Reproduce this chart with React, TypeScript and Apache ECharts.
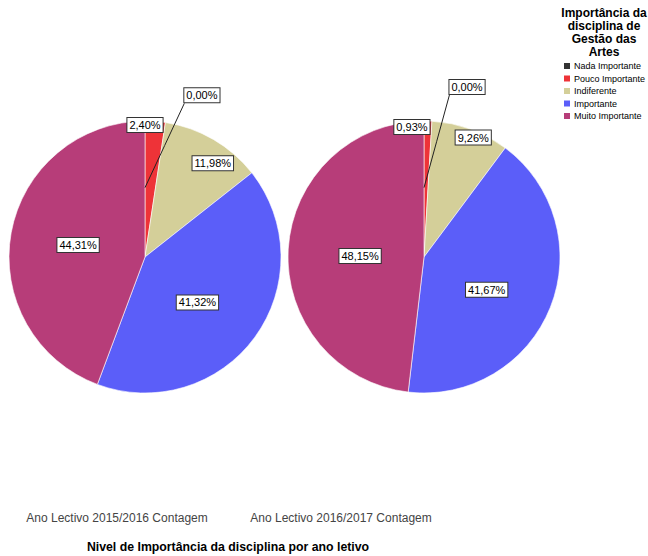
import React, { useEffect, useRef } from 'react';
import * as echarts from 'echarts';

const categories = ['Nada Importante', 'Pouco Importante', 'Indiferente', 'Importante', 'Muito Importante'];
const values2015 = [0, 2.4, 11.98, 41.32, 44.31];
const values2016 = [0, 0.93, 9.26, 41.67, 48.15];
const pieCaptions = ['Ano Lectivo 2015/2016 Contagem', 'Ano Lectivo 2016/2017 Contagem'];
const legendTitle = 'Importância da\ndisciplina de\nGestão das\nArtes';
const chartTitle = 'Nivel de Importância da disciplina por ano letivo';

const colors = ['#333333', '#ee3338', '#d4cf99', '#5b5ef9', '#b73d79'];
const FONT = '"Liberation Sans", Arial, sans-serif';

const PIE_R = 136;
const centers: number[][] = [[145, 257], [424, 257]];
// label placement per series & item: angle (absolute deg, null = slice middle), fraction of radius
const placement: { angle: number | null; f: number }[][] = [
  [{ angle: 19.4, f: 1.26 }, { angle: 0, f: 0.97 }, { angle: 35.9, f: 0.85 }, { angle: 130.9, f: 0.51 }, { angle: 280.2, f: 0.5 }],
  [{ angle: 14.2, f: 1.29 }, { angle: -5.3, f: 0.96 }, { angle: 22.4, f: 0.95 }, { angle: 117.6, f: 0.52 }, { angle: 270.9, f: 0.47 }],
];

const allValues = [values2015, values2016];

function fmt(v: number) {
  return v.toFixed(2).replace('.', ',') + '%';
}

function polar(s: number, angleDeg: number, f: number) {
  const a = (angleDeg * Math.PI) / 180;
  const [cx, cy] = centers[s];
  return [cx + Math.sin(a) * f * PIE_R, cy - Math.cos(a) * f * PIE_R];
}

function midAngle(s: number, i: number) {
  const vals = allValues[s];
  const total = vals.reduce((a, b) => a + b, 0);
  let cum = 0;
  for (let k = 0; k < i; k++) cum += vals[k];
  return ((cum + vals[i] / 2) / total) * 360;
}

const labelBase = {
  show: true,
  position: 'inside',
  formatter: (p: any) => fmt(p.value),
  fontFamily: FONT,
  fontSize: 11,
  color: '#000',
  backgroundColor: '#ffffff',
  borderColor: '#333',
  borderWidth: 1,
  padding: [2, 2, 1, 2],
  align: 'center',
  verticalAlign: 'middle',
};

function makeLayout(s: number) {
  return (params: any) => {
    const i = params.dataIndex;
    const pl = placement[s][i];
    const ang = pl.angle === null ? midAngle(s, i) : pl.angle;
    const [x, y] = polar(s, ang, pl.f);
    const res: any = { x, y, align: 'center', verticalAlign: 'middle' };
    if (allValues[s][i] === 0) {
      const w = params.labelRect.width;
      const h = params.labelRect.height;
      const sx = x - w / 2 + 1;
      const sy = y + h / 2;
      const [tx, ty] = polar(s, 0, 0.51);
      res.labelLinePoints = [[sx, sy], [(sx + tx) / 2, (sy + ty) / 2], [tx, ty]];
    }
    return res;
  };
}

export default function App() {
  const ref = useRef<HTMLDivElement>(null);
  useEffect(() => {
    document.body.style.margin = '0';
    if (!ref.current) return;
    const chart = echarts.init(ref.current, null, { renderer: 'svg' });

    const makeSeries = (s: number) => ({
      type: 'pie',
      name: pieCaptions[s],
      center: centers[s],
      radius: PIE_R,
      startAngle: 90,
      clockwise: true,
      avoidLabelOverlap: false,
      stillShowZeroSum: true,
      emphasis: { disabled: true },
      itemStyle: { borderColor: '#ffffff', borderWidth: 0.6 },
      label: labelBase,
      labelLine: { show: false },
      labelLayout: makeLayout(s),
      data: categories.map((c, i) => {
        const d: any = { name: c, value: allValues[s][i], itemStyle: { color: colors[i] } };
        if (allValues[s][i] === 0) d.label = { show: false };
        return d;
      }),
    });

    // transparent overlay carrying the outside label (with leader line) of zero-valued slices
    const makeOverlay = (s: number) => ({
      type: 'pie',
      name: pieCaptions[s] + ' ',
      z: 5,
      center: centers[s],
      radius: PIE_R,
      startAngle: 90,
      clockwise: true,
      avoidLabelOverlap: false,
      stillShowZeroSum: true,
      silent: true,
      emphasis: { disabled: true },
      itemStyle: { color: 'rgba(0,0,0,0)', borderWidth: 0 },
      label: { ...labelBase, show: false },
      labelLine: { show: false },
      labelLayout: makeLayout(s),
      data: categories.map((c, i) => {
        const d: any = { name: c, value: allValues[s][i] };
        if (allValues[s][i] === 0) {
          d.label = { show: true, position: 'outside' };
          d.labelLine = { show: true, length: 20, length2: 10, lineStyle: { color: '#222', width: 1 } };
        }
        return d;
      }),
    });

    chart.setOption({
      animation: false,
      legend: {
        orient: 'vertical',
        left: 562,
        top: 61,
        padding: 0,
        icon: 'rect',
        itemWidth: 8,
        itemHeight: 8,
        itemGap: 2.5,
        selectedMode: false,
        data: categories,
        textStyle: { fontFamily: FONT, fontSize: 9, lineHeight: 10, color: '#000', padding: [0, 0, 0, -2] },
      },
      graphic: [
        {
          type: 'text',
          x: 604,
          y: 6,
          style: {
            text: legendTitle,
            fontFamily: FONT,
            fontWeight: 'bold',
            fontSize: 12,
            lineHeight: 13,
            textAlign: 'center',
            fill: '#000',
          },
        },
        {
          type: 'text',
          x: 117,
          y: 518,
          style: { text: pieCaptions[0], fontFamily: FONT, fontSize: 12, fill: '#444', textAlign: 'center', textVerticalAlign: 'middle' },
        },
        {
          type: 'text',
          x: 341,
          y: 518,
          style: { text: pieCaptions[1], fontFamily: FONT, fontSize: 12, fill: '#444', textAlign: 'center', textVerticalAlign: 'middle' },
        },
        {
          type: 'text',
          x: 228,
          y: 547,
          style: { text: chartTitle, fontFamily: FONT, fontSize: 12.3, fontWeight: 'bold', fill: '#000', textAlign: 'center', textVerticalAlign: 'middle' },
        },
      ],
      series: [makeSeries(0), makeSeries(1), makeOverlay(0), makeOverlay(1)],
    });
    return () => chart.dispose();
  }, []);
  return <div ref={ref} style={{ width: 648, height: 556 }} />;
}
